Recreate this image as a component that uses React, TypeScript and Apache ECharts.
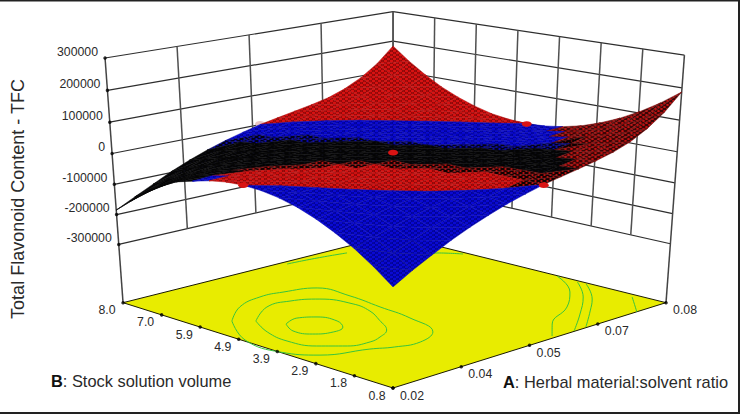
import React, { useEffect, useRef } from "react";
import * as echarts from "echarts";

const A_TICKS = ["0.02", "0.04", "0.05", "0.07", "0.08"];
const B_TICKS = ["8.0", "7.0", "5.9", "4.9", "3.9", "2.9", "1.8", "0.8"];
const Z_TICKS = [300000, 200000, 100000, 0, -100000, -200000, -300000];
const A_MIN = 0.02, A_MAX = 0.08, B_MIN = 0.8, B_MAX = 8.0, Z_MIN = -500000, Z_MAX = 300000;

// surface heights in thousands; rows run along B (0.8 -> 8.0), columns along A (0.02 -> 0.08)
const Z_SURFACE = [
  [-191,-157,-127,-98,-73,-51,-31,-15,0,11,22,34,48,68,97,136,187],
  [-146,-120,-97,-75,-56,-39,-24,-11,0,8,17,26,37,52,74,104,143],
  [-107,-88,-71,-55,-41,-29,-17,-8,0,6,12,19,27,38,55,77,105],
  [-75,-61,-50,-38,-29,-20,-12,-6,0,4,9,13,19,27,38,53,73],
  [-48,-39,-32,-25,-18,-13,-8,-4,0,3,6,9,12,17,24,34,47],
  [-27,-22,-18,-14,-10,-7,-4,-2,0,2,3,5,7,10,14,19,26],
  [-12,-10,-8,-6,-5,-3,-2,-1,0,1,1,2,3,4,6,9,12],
  [-3,-2,-2,-2,-1,-1,0,0,0,0,0,1,1,1,2,2,3],
  [0,0,0,0,0,0,0,0,0,0,0,0,0,0,0,0,0],
  [-3,-2,-2,-2,-1,-1,0,0,0,0,0,1,1,1,1,2,3],
  [-12,-10,-8,-6,-5,-3,-2,-1,0,1,1,2,3,4,6,8,11],
  [-26,-22,-18,-14,-10,-7,-4,-2,0,2,3,5,6,9,13,18,26],
  [-41,-35,-29,-23,-17,-12,-7,-4,0,3,5,8,11,16,23,33,46],
  [-68,-58,-48,-37,-28,-19,-12,-6,0,4,9,13,18,26,37,52,71],
  [-102,-86,-70,-54,-40,-28,-17,-8,0,6,12,19,26,37,53,74,103],
  [-142,-119,-96,-74,-55,-38,-24,-11,0,8,17,25,35,51,72,101,140],
  [-185,-155,-126,-97,-72,-50,-31,-15,0,11,22,33,46,66,94,132,183],
];

// design points: A, B, Z
const DESIGN_POINTS = [
  [0.05, 8.0, 2000],
  [0.02, 4.4, 0],
  [0.05, 0.8, -2000],
  [0.08, 4.4, -2000],
  [0.05, 4.4, 0],
];

// floor contours: pairs of A, B
const CONTOUR_1 = [[0.0303,4.79],[0.0336,4.93],[0.0362,4.72],[0.0369,4.27],[0.0353,3.92],[0.0325,3.82],[0.0296,3.99],[0.0286,4.38],[0.0303,4.79]];
const CONTOUR_2 = [[0.0281,5.32],[0.0344,5.86],[0.0392,5.85],[0.0433,5.55],[0.0451,4.87],[0.0442,4.31],[0.0417,3.75],[0.0389,3.23],[0.0357,3.01],[0.0329,2.92],[0.0291,3.03],[0.0259,3.41],[0.0245,4.00],[0.0255,4.66],[0.0281,5.32]];
const CONTOUR_3 = [[0.0255,5.63],[0.0314,6.22],[0.0374,6.46],[0.0419,6.40],[0.0474,6.15],[0.0479,5.30],[0.0469,4.37],[0.0459,3.47],[0.0431,2.56],[0.0381,2.29],[0.0337,2.40],[0.0304,2.62],[0.0232,2.98],[0.0201,3.60],[0.0204,4.57],[0.0255,5.63]];
const CONTOUR_4 = [[0.0798,3.46],[0.0741,2.54],[0.0673,1.91],[0.0588,1.38],[0.0541,0.89]];
const CONTOUR_5 = [[0.0794,2.90],[0.0734,2.14],[0.0658,1.44],[0.0584,0.82]];
const CONTOUR_6 = [[0.0795,2.69],[0.0735,1.93],[0.0682,1.44],[0.0612,0.83]];
const CONTOUR_7 = [[0.0788,1.49],[0.0728,0.79]];
const CONTOUR_8 = [[0.0539,7.86],[0.0600,7.77],[0.0659,7.63]];
const CONTOUR_9 = [[0.0740,6.31],[0.0766,6.33],[0.0792,5.90]];
const CONTOURS = [CONTOUR_1, CONTOUR_2, CONTOUR_3, CONTOUR_4, CONTOUR_5, CONTOUR_6, CONTOUR_7, CONTOUR_8, CONTOUR_9];

const FONT = '"Liberation Sans", Arial, sans-serif';
const toU = (a: number) => (a - A_MIN) / (A_MAX - A_MIN);
const toV = (b: number) => (b - B_MIN) / (B_MAX - B_MIN);
const toW = (z: number) => (z - Z_MIN) / (Z_MAX - Z_MIN);

// perspective of the box
function project(u: number, v: number, w: number): number[] {
  const d = 1 + 0.1237 * u + 0.1362 * v - 0.071 * w;
  return [(393 + 355.4 * u - 253.2 * v - 27.9 * w) / d, (388 - 47.9 * u - 44.1 * v - 282.1 * w) / d];
}
const lerp = (p: number[], q: number[], k: number) => [p[0] + (q[0] - p[0]) * k, p[1] + (q[1] - p[1]) * k];

function tile(bg: string, dot: string, r: number) {
  const c = document.createElement("canvas");
  c.width = 6; c.height = 4;
  const g = c.getContext("2d")!;
  g.fillStyle = bg; g.fillRect(0, 0, 6, 4);
  g.fillStyle = dot;
  [[1.5, 1], [4.5, 3], [-1.5, 3], [7.5, 1], [1.5, 5], [4.5, -1]].forEach(([x, y]) => {
    g.beginPath(); g.ellipse(x, y, r, r * 0.8, 0, 0, Math.PI * 2); g.fill();
  });
  return { image: c.toDataURL(), repeat: "repeat", imageWidth: 6, imageHeight: 4 };
}

function band(s: number, t: number): string {
  if (t > 0.62) return Math.abs(s - 1) < 0.08 && t < 0.68 ? "blackRed" : "dark";
  if (s >= 1.5) return "red";
  if (t < -0.72) return s >= 0.7 ? "black" : "blue";
  const up = 1.13 - 0.3 * t;
  const lo = t > 0 ? 0.86 - 0.4 * t : 0.86 + 0.1 * t;
  if (s > up + 0.07) return "blue";
  if (s > up) return "blueMix";
  if (s > lo) return "black";
  if (s > lo - 0.07) return t < -0.55 ? "black" : "redMix";
  if (s >= 0.5) return t < -0.58 ? "blue" : t > 0.42 ? "redMix" : "red";
  return "blue";
}

const SOLID: Record<string, string> = {
  red: "#b81010", blue: "#0808b8", black: "#060606", redMix: "#701010", blueMix: "#060678", dark: "#7a0e0e", blackRed: "#300606",
};

export default function App() {
  const ref = useRef<HTMLDivElement>(null);
  useEffect(() => {
    const chart = echarts.init(ref.current!, null, { renderer: "svg" });
    const PAT: Record<string, any> = {
      red: tile("#7a0808", "#d81212", 1.75),
      blue: tile("#020280", "#0a0ad2", 1.8),
      black: tile("#040404", "#0c0c14", 1.2),
      redMix: tile("#100202", "#c41010", 1.2),
      blueMix: tile("#020214", "#0a0ab8", 1.25),
      dark: tile("#3a0606", "#c41212", 1.35),
      blackRed: tile("#080101", "#901010", 0.9),
    };
    const n = Z_SURFACE.length - 1;
    const cells: number[][] = [];
    for (let j = n - 1; j >= 0; j--) for (let i = n - 1; i >= 0; i--) { cells.push([i, j, 1]); cells.push([i, j, 0]); }
    const node = (i: number, j: number) => project(i / n, j / n, toW(Z_SURFACE[j][i] * 1000));

    const line = (pts: number[][], color: string, width: number, z: number, smooth = false) => ({
      type: "line", data: pts, symbol: "none", silent: true, smooth: smooth ? 0.45 : false, z, clip: false,
      lineStyle: { color, width }, animation: false,
    });

    const series: any[] = [];
    const L = project(0, 1, 0), R = project(1, 0, 0), F = project(0, 0, 0), Bk = project(1, 1, 0);
    series.push({
      type: "custom", z: 2, silent: true, clip: false, data: [[0, 0]],
      renderItem: (_: any, api: any) => ({
        type: "polygon",
        shape: { points: [F, R, Bk, L].map((p) => api.coord(p)) },
        style: { fill: "#e8ec00", stroke: "#1a1a00", lineWidth: 1 },
      }),
    });
    // walls
    const wallColor = "#2e2e2e";
    Z_TICKS.forEach((z) => {
      const w = toW(z);
      series.push(line([project(0, 1, w), project(1, 1, w)], wallColor, 1.2, 1));
      series.push(line([project(1, 1, w), project(1, 0, w)], wallColor, 1.2, 1));
    });
    const wTop = toW(Z_TICKS[0]), wBot = toW(Z_TICKS[Z_TICKS.length - 1]);
    for (let k = 1; k < A_TICKS.length; k++) {
      const f = k / (A_TICKS.length - 1);
      series.push(line([lerp(project(0, 1, wTop), project(1, 1, wTop), f), lerp(project(0, 1, wBot), project(1, 1, wBot), f)], "#505050", 1.5, 1));
    }
    for (let k = 1; k < B_TICKS.length - 1; k++) {
      const f = k / (B_TICKS.length - 1);
      series.push(line([lerp(project(1, 1, wTop), project(1, 0, wTop), f), lerp(project(1, 1, wBot), project(1, 0, wBot), f)], "#505050", 1.5, 1));
    }
    series.push(line([project(0, 1, 0), project(0, 1, wTop)], "#444444", 1.5, 1));
    series.push(line([project(1, 0, 0), project(1, 0, wTop)], "#444444", 1.5, 1));
    series.push(line([project(1, 1, 0), project(1, 1, wTop)], "#505050", 1.5, 1));
    // contours
    CONTOURS.forEach((c) => series.push(line(c.map((p) => project(toU(p[0]), toV(p[1]), 0)), "#38c43c", 1, 3, true)));
    // ticks
    const tickPts: number[][] = [];
    Z_TICKS.forEach((z) => tickPts.push(project(0, 1, toW(z))));
    B_TICKS.forEach((_, k) => tickPts.push(lerp(L, F, k / (B_TICKS.length - 1))));
    A_TICKS.forEach((_, k) => tickPts.push(lerp(F, R, k / (A_TICKS.length - 1))));
    series.push({ type: "scatter", data: tickPts, symbolSize: 3.5, silent: true, z: 4, itemStyle: { color: "#000" } });
    // hidden design point behind the surface
    const ptXY = DESIGN_POINTS.map((p) => project(toU(p[0]), toV(p[1]), toW(p[2])));
    const ellipse = (data: number[][], color: string, z: number) => ({
      type: "custom", z, silent: true, clip: false, data,
      renderItem: (_: any, api: any) => {
        const c = api.coord([api.value(0), api.value(1)]);
        return { type: "ellipse", shape: { cx: c[0], cy: c[1], rx: 5, ry: 2.8 }, style: { fill: color } };
      },
    });
    series.push(ellipse([ptXY[0]], "#e8c4c4", 5));
    // surface
    series.push({
      type: "custom", z: 6, silent: true, clip: false, data: cells,
      renderItem: (_: any, api: any) => {
        const i = api.value(0), j = api.value(1), up = api.value(2);
        const idx = up ? [[i + 1, j], [i + 1, j + 1], [i, j + 1]] : [[i, j], [i + 1, j], [i, j + 1]];
        const su = idx.reduce((a, p) => a + p[0], 0) / 3 / n, sv = idx.reduce((a, p) => a + p[1], 0) / 3 / n;
        const key = band(su + sv, su - sv);
        return {
          type: "polygon",
          shape: { points: idx.map((p) => api.coord(node(p[0], p[1]))) },
          style: { fill: PAT[key], stroke: SOLID[key], lineWidth: 0.5 },
        };
      },
    });
    series.push(ellipse(ptXY.slice(1), "#d81414", 7));

    const graphic: any[] = [];
    const text = (x: number, y: number, str: string, align: string, size = 12.3, extra: any = {}) =>
      graphic.push({ type: "text", x, y, silent: true, z: 20, ...extra, style: { text: str, font: `${size}px ${FONT}`, fill: "#2a2a2a", align, verticalAlign: "middle", ...(extra.style || {}) } });
    Z_TICKS.forEach((z) => { const p = project(0, 1, toW(z)); text(p[0] - 7, p[1] - 6.5, String(z), "right"); });
    B_TICKS.forEach((t, k) => { const p = lerp(L, F, k / (B_TICKS.length - 1)); text(p[0] - 16, p[1] + 7.5, t, "center"); });
    A_TICKS.forEach((t, k) => { const p = lerp(F, R, k / (A_TICKS.length - 1)); text(p[0] + 19, p[1] + 7.5, t, "center"); });
    text(18, 199, "Total Flavonoid Content - TFC", "center", 18, { rotation: Math.PI / 2 });
    const rich = { b: { fontWeight: "bold", fontSize: 16.4, fontFamily: FONT, fill: "#111" } };
    text(51, 381, "{b|B}: Stock solution volume", "left", 16.4, { style: { rich } });
    text(503, 382, "{b|A}: Herbal material:solvent ratio", "left", 16.4, { style: { rich } });
    [[0, 0, 740, 1.5], [738, 0, 2, 414], [0, 412, 740, 2]].forEach((r) =>
      graphic.push({ type: "rect", silent: true, z: 30, shape: { x: r[0], y: r[1], width: r[2], height: r[3] }, style: { fill: "#222" } })
    );

    chart.setOption({
      animation: false,
      backgroundColor: "#ffffff",
      grid: { left: 0, right: 0, top: 0, bottom: 0 },
      xAxis: { type: "value", min: 0, max: 740, show: false },
      yAxis: { type: "value", min: 0, max: 414, inverse: true, show: false },
      series,
      graphic,
    });
    return () => chart.dispose();
  }, []);
  return <div ref={ref} style={{ width: 740, height: 414, position: "fixed", left: 0, top: 0 }} />;
}
